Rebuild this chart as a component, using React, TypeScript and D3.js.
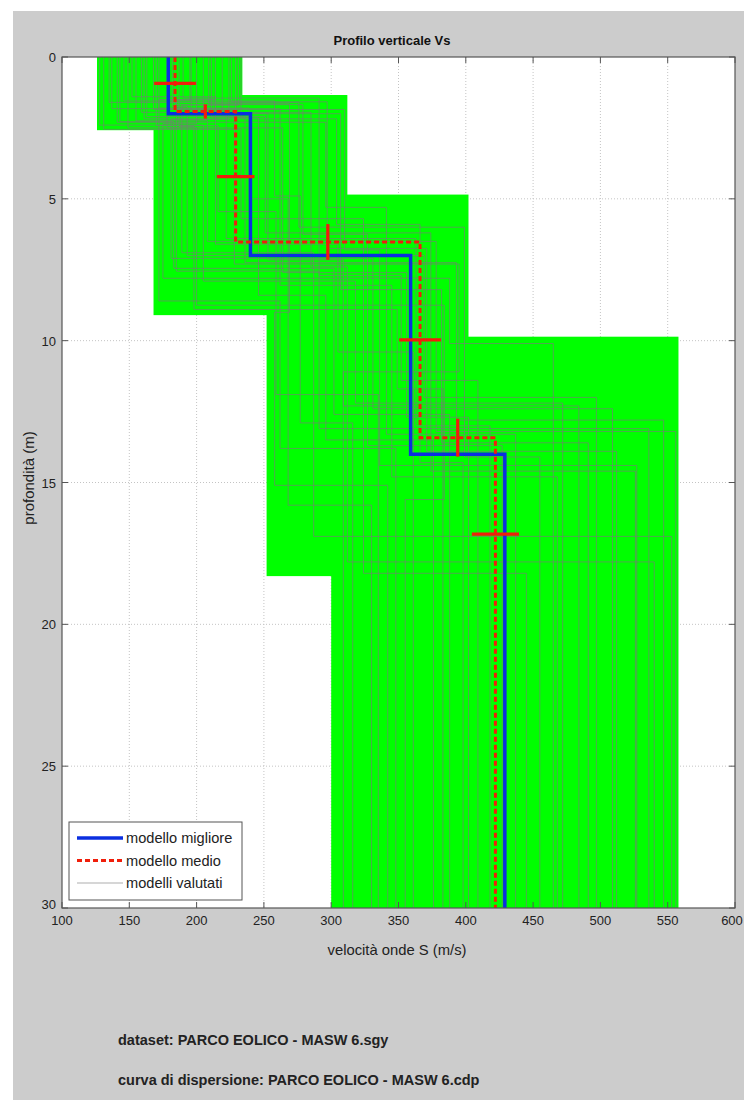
import React from 'react';
import * as d3 from 'd3';

const xTicks = [100, 150, 200, 250, 300, 350, 400, 450, 500, 550, 600];
const yTicks = [0, 5, 10, 15, 20, 25, 30];

// search space for each layer (green)
const layerVmin = [126, 168, 252, 300];
const layerVmax = [234, 312, 402, 558];
const layerTop = [0, 1.34, 4.85, 9.86];
const layerBottom = [2.58, 9.1, 18.3, 30];

// best model (blue)
const bestVs = [179, 240, 359, 429];
const bestDepths = [2.0, 7.0, 14.0];

// mean model (red dashed) and its spread
const meanVs = [184, 229, 366, 422];
const meanDepths = [1.92, 6.52, 13.42];
const stdVs = [15.5, 14, 15.5, 17.5];
const stdDepths = [0.25, 0.63, 0.67];
const barDepths = [0.93, 4.22, 9.97, 16.82];

// evaluated models: [v1, v2, v3, v4, h1, h2, h3]
const models = [
  [128, 205, 318, 472, 2.4, 7.9, 12.2],
  [214, 172, 262, 348, 1.5, 8.6, 13.8],
  [163, 251, 374, 526, 2.1, 6.2, 14.6],
  [196, 228, 395, 309, 1.9, 7.3, 11.1],
  [141, 296, 341, 437, 2.3, 5.3, 13.3],
  [231, 189, 287, 553, 1.7, 6.9, 16.9],
  [178, 264, 356, 402, 2.5, 7.6, 12.7],
  [152, 214, 305, 361, 1.4, 6.6, 10.4],
  [205, 307, 382, 491, 2.0, 8.2, 13.6],
  [172, 239, 268, 330, 1.8, 5.0, 15.8],
  [224, 181, 331, 509, 2.2, 7.1, 12.4],
  [135, 276, 399, 455, 1.6, 6.0, 14.1],
  [187, 198, 349, 383, 2.45, 8.9, 11.7],
  [159, 285, 312, 540, 1.95, 7.4, 17.8],
  [219, 222, 363, 418, 2.05, 6.4, 13.0],
  [146, 258, 277, 316, 1.55, 4.9, 12.9],
  [200, 175, 388, 465, 2.35, 7.8, 10.1],
  [168, 310, 336, 527, 1.85, 6.8, 14.4],
  [233, 246, 296, 376, 2.15, 8.4, 13.5],
  [182, 193, 369, 497, 1.75, 7.0, 12.0],
  [131, 233, 324, 445, 2.55, 5.7, 18.2],
  [209, 269, 258, 342, 1.65, 9.0, 15.1],
  [155, 208, 378, 556, 2.25, 6.5, 13.2],
  [190, 291, 352, 409, 1.45, 7.7, 11.4],
  [143, 183, 302, 388, 2.28, 7.45, 12.6],
  [226, 297, 371, 512, 1.58, 6.75, 13.9],
  [170, 216, 259, 335, 2.42, 5.45, 11.9],
  [137, 262, 345, 468, 1.82, 8.05, 14.8],
  [211, 236, 393, 547, 2.12, 7.25, 12.8],
  [184, 279, 327, 427, 1.68, 6.25, 13.7],
  [149, 200, 384, 355, 2.5, 8.75, 15.6],
  [229, 253, 309, 484, 1.98, 7.15, 12.3],
  [161, 304, 366, 398, 2.18, 5.9, 14.3],
  [195, 185, 291, 536, 1.52, 7.55, 13.1],
];

const legendItems = ['modello migliore', 'modello medio', 'modelli valutati'];
const infoLines = ['dataset: PARCO EOLICO - MASW 6.sgy', 'curva di dispersione: PARCO EOLICO - MASW 6.cdp'];

const W = 744;
const H = 1100;
const font = '"Liberation Sans", Arial, sans-serif';

const x = d3.scaleLinear().domain([100, 600]).range([62, 735]);
const y = d3.scaleLinear().domain([0, 30]).range([57, 908]);

// turn velocities + interface depths into a step profile
const stepPoints = (vs: number[], hs: number[]): [number, number][] => {
  const pts: [number, number][] = [];
  let top = 0;
  vs.forEach((v, i) => {
    const bottom = i < hs.length ? hs[i] : 30;
    pts.push([v, top]);
    pts.push([v, bottom]);
    top = bottom;
  });
  return pts;
};

const line = d3.line<[number, number]>()
  .x((d) => x(d[0]))
  .y((d) => y(d[1]));

const App = () => {
  const [x0, x1] = x.range();
  const [y0, y1] = y.range();

  return (
    <svg width={W} height={H} style={{ position: 'absolute', left: 0, top: 0 }} fontFamily={font}>
      <rect x={0} y={0} width={W} height={H} fill="#fff" />
      <rect x={13} y={11} width={W - 13} height={H - 11} fill="#cccccc" />
      <rect x={x0} y={y0} width={x1 - x0} height={y1 - y0} fill="#fff" />

      {/* grid */}
      <g stroke="#c4c4c4" strokeWidth={1} strokeDasharray="1 2">
        {xTicks.slice(1, -1).map((t) => (
          <line key={'gx' + t} x1={x(t)} x2={x(t)} y1={y0} y2={y1} />
        ))}
        {yTicks.slice(1, -1).map((t) => (
          <line key={'gy' + t} x1={x0} x2={x1} y1={y(t)} y2={y(t)} />
        ))}
      </g>

      {/* search space */}
      {layerVmin.map((vmin, i) => (
        <rect
          key={'layer' + i}
          x={x(vmin)}
          y={y(layerTop[i])}
          width={x(layerVmax[i]) - x(vmin)}
          height={y(layerBottom[i]) - y(layerTop[i])}
          fill="#00ff00"
        />
      ))}

      {/* evaluated models */}
      <g fill="none" stroke="#7a7a7a" strokeWidth={1} strokeOpacity={0.65}>
        {models.map((m, i) => (
          <path key={'m' + i} d={line(stepPoints(m.slice(0, 4), m.slice(4))) || ''} />
        ))}
      </g>

      {/* best model */}
      <path d={line(stepPoints(bestVs, bestDepths)) || ''} fill="none" stroke="#0b2fe0" strokeWidth={3.5} />

      {/* mean model */}
      <path
        d={line(stepPoints(meanVs, meanDepths)) || ''}
        fill="none"
        stroke="#f01e0a"
        strokeWidth={3}
        strokeDasharray="5 3"
      />

      {/* error bars */}
      <g stroke="#f01e0a" strokeWidth={3.2}>
        {meanVs.map((v, i) => (
          <line key={'ev' + i} x1={x(v - stdVs[i])} x2={x(v + stdVs[i])} y1={y(barDepths[i])} y2={y(barDepths[i])} />
        ))}
        {meanDepths.map((h, i) => {
          const vm = (meanVs[i] + meanVs[i + 1]) / 2;
          return (
            <line key={'eh' + i} x1={x(vm)} x2={x(vm)} y1={y(h - stdDepths[i])} y2={y(h + stdDepths[i])} />
          );
        })}
      </g>

      {/* axes box and ticks */}
      <rect x={x0} y={y0} width={x1 - x0} height={y1 - y0} fill="none" stroke="#555" strokeWidth={1.2} />
      <g stroke="#555" strokeWidth={1}>
        {xTicks.map((t) => (
          <g key={'tx' + t}>
            <line x1={x(t)} x2={x(t)} y1={y1} y2={y1 - 6} />
            <line x1={x(t)} x2={x(t)} y1={y0} y2={y0 + 6} />
          </g>
        ))}
        {yTicks.map((t) => (
          <g key={'ty' + t}>
            <line x1={x0} x2={x0 + 6} y1={y(t)} y2={y(t)} />
            <line x1={x1} x2={x1 - 6} y1={y(t)} y2={y(t)} />
          </g>
        ))}
      </g>

      <g fontSize={13} fill="#222">
        {xTicks.map((t) => (
          <text key={'lx' + t} x={Math.min(x(t), W - 12)} y={y1 + 17} textAnchor="middle">{t}</text>
        ))}
        {yTicks.map((t) => (
          <text key={'ly' + t} x={x0 - 6} y={t === 30 ? y(t) + 1 : y(t) + 5} textAnchor="end">{t}</text>
        ))}
      </g>

      <text x={392} y={45} textAnchor="middle" fontSize={13} fontWeight="bold" fill="#111">Profilo verticale Vs</text>
      <text x={397} y={955} textAnchor="middle" fontSize={14.8} fill="#222">velocità onde S (m/s)</text>
      <text transform={`translate(34, 478) rotate(-90)`} textAnchor="middle" fontSize={15} fill="#222">profondità (m)</text>

      {/* legend */}
      <g>
        <rect x={69} y={822} width={173} height={78} fill="#fff" stroke="#555" strokeWidth={1} />
        {legendItems.map((name, i) => {
          const ly = 838 + i * 22.5;
          return (
            <g key={name}>
              {i === 0 && <line x1={77} x2={123} y1={ly} y2={ly} stroke="#0b2fe0" strokeWidth={3.5} />}
              {i === 1 && <line x1={77} x2={123} y1={ly} y2={ly} stroke="#f01e0a" strokeWidth={3} strokeDasharray="5 3" />}
              {i === 2 && <line x1={77} x2={123} y1={ly} y2={ly} stroke="#c8c8c8" strokeWidth={1.5} />}
              <text x={126} y={ly + 5} fontSize={14.6} fill="#222">{name}</text>
            </g>
          );
        })}
      </g>

      {infoLines.map((s, i) => (
        <text key={s} x={118} y={1045 + i * 40} fontSize={14.5} fontWeight="bold" fill="#222">{s}</text>
      ))}
    </svg>
  );
};

export default App;
